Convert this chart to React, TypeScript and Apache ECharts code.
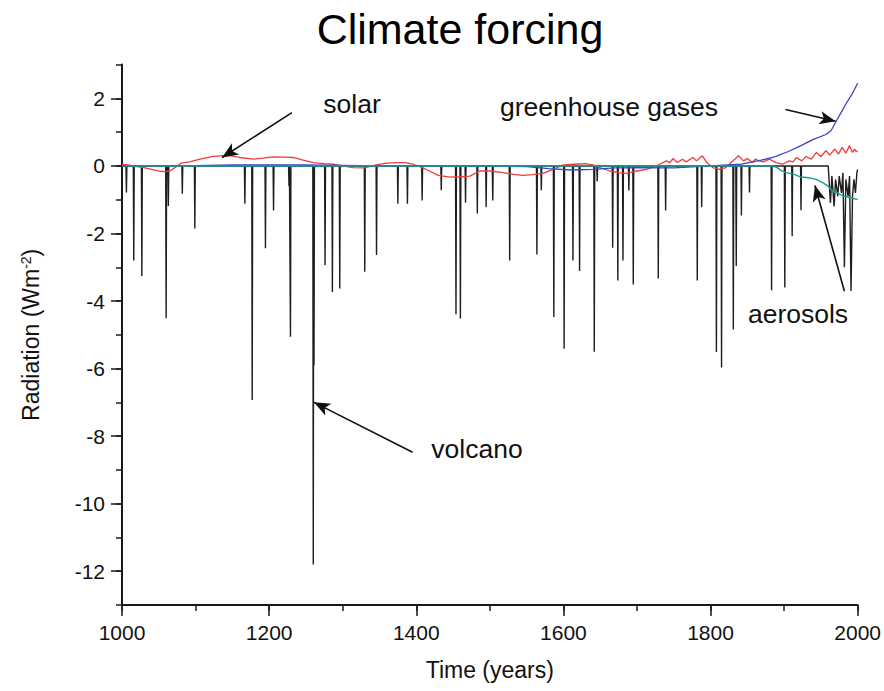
import { useEffect, useRef } from 'react';
import * as echarts from 'echarts';

const FONT = '"Liberation Sans", Arial, Helvetica, sans-serif';

// Volcanic forcing spikes: [year, W/m2]
const volcanicSpikes: [number, number][] = [
  [1006, -0.79], [1016, -2.8], [1027, -3.26], [1060, -4.51], [1063, -1.19], [1082, -0.82],
  [1099, -1.85], [1167, -1.12], [1177, -6.93], [1195, -2.44], [1206, -1.32], [1227, -0.6],
  [1229, -5.06], [1260, -11.8], [1261, -5.9], [1276, -2.94], [1286, -3.73], [1296, -3.63],
  [1330, -3.13], [1346, -2.64], [1375, -1.12], [1388, -1.12], [1408, -1.02], [1434, -0.72],
  [1454, -4.39], [1460, -4.52], [1467, -1.09], [1483, -1.41], [1495, -1.22], [1504, -1.02],
  [1527, -2.8], [1564, -2.62], [1570, -0.72], [1587, -4.47], [1601, -5.41], [1613, -2.8],
  [1622, -3.11], [1642, -5.5], [1646, -0.45], [1667, -2.42], [1674, -3.39], [1681, -2.8],
  [1689, -0.73], [1695, -3.51], [1729, -3.33], [1739, -1.32], [1782, -3.39], [1788, -1.22],
  [1808, -5.51], [1815, -5.97], [1831, -4.84], [1835, -2.96], [1842, -1.47], [1853, -0.79],
  [1883, -3.68], [1901, -3.6], [1911, -2.08], [1923, -1.31],
];

// Recent volcanic record (continuous): [year, W/m2]
const volcanicRecent: [number, number][] = [
  [1958, 0], [1960, 0], [1963, -1.1], [1965, -0.3], [1968, -1.2], [1970, -0.4],
  [1973, -0.9], [1975, -0.3], [1978, -0.8], [1980, -0.2], [1982, -3.0],
  [1984, -0.4], [1987, -0.9], [1989, -0.3], [1991, -3.7], [1993, -0.9],
  [1995, -0.4], [1997, -0.8], [1999, -0.2], [2000, -0.1],
];

// Solar forcing: [year, W/m2]
const solar: [number, number][] = [
  [1000, 0.05], [1010, 0.02], [1020, -0.02], [1030, -0.05], [1040, -0.1], [1050, -0.15],
  [1058, -0.17], [1065, -0.15], [1072, -0.05], [1080, 0.08], [1092, 0.12], [1106, 0.2],
  [1124, 0.28], [1144, 0.31], [1160, 0.25], [1178, 0.2], [1192, 0.23], [1205, 0.27],
  [1220, 0.26], [1233, 0.25], [1245, 0.18], [1260, 0.1], [1275, 0.07], [1287, 0.05],
  [1300, 0.0], [1314, -0.05], [1330, -0.06], [1345, 0.03], [1360, 0.08], [1373, 0.1],
  [1385, 0.1], [1396, 0.05], [1408, -0.05], [1418, -0.15], [1430, -0.28], [1446, -0.33],
  [1460, -0.32], [1473, -0.3], [1486, -0.15], [1500, -0.15], [1518, -0.2], [1532, -0.25],
  [1545, -0.28], [1558, -0.26], [1572, -0.22], [1586, -0.1], [1600, 0.03], [1615, 0.05],
  [1630, 0.07], [1640, 0.03], [1650, -0.05], [1663, -0.15], [1675, -0.2], [1686, -0.22],
  [1700, -0.15], [1713, -0.1], [1724, -0.02], [1731, 0.05], [1740, 0.15], [1745, 0.1],
  [1749, 0.22], [1755, 0.1], [1762, 0.2], [1767, 0.12], [1776, 0.25], [1781, 0.15],
  [1789, 0.3], [1795, 0.1], [1803, -0.05], [1812, -0.1], [1821, -0.05], [1828, 0.1],
  [1833, 0.2], [1838, 0.3], [1845, 0.15], [1850, 0.22], [1857, 0.1], [1861, 0.2],
  [1866, 0.15], [1872, 0.12], [1880, 0.2], [1889, 0.1], [1898, 0.05], [1907, 0.15],
  [1912, 0.12], [1917, 0.25], [1924, 0.15], [1930, 0.28], [1937, 0.2], [1944, 0.4],
  [1950, 0.28], [1957, 0.45], [1962, 0.32], [1969, 0.5], [1974, 0.35], [1979, 0.55],
  [1984, 0.38], [1989, 0.6], [1993, 0.4], [1996, 0.5], [1998, 0.42], [2000, 0.45],
];

// Greenhouse gases forcing: [year, W/m2]
const greenhouse: [number, number][] = [
  [1000, 0], [1100, 0.01], [1150, 0.03], [1250, 0.03], [1350, 0.0], [1450, 0.01],
  [1550, -0.02], [1580, -0.08], [1610, -0.12], [1640, -0.1], [1670, -0.06], [1700, -0.05],
  [1750, -0.06], [1800, 0.0], [1842, 0.05], [1869, 0.17], [1887, 0.27], [1905, 0.42],
  [1923, 0.6], [1939, 0.78], [1957, 0.93], [1964, 1.05], [1971, 1.33], [1978, 1.6],
  [1985, 1.87], [1993, 2.15], [2000, 2.45],
];

// Aerosol forcing: [year, W/m2]
const aerosols: [number, number][] = [
  [1000, 0], [1880, 0], [1889, -0.03], [1896, -0.13], [1903, -0.2], [1914, -0.25],
  [1921, -0.32], [1933, -0.35], [1944, -0.4], [1953, -0.5], [1960, -0.6], [1966, -0.75],
  [1973, -0.8], [1980, -0.89], [1987, -0.92], [2000, -1.0],
];

// Annotation arrows in data coordinates: [x1, y1, x2(head), y2(head)]
const arrowSegments: [number, number, number, number][] = [
  [1231, 1.58, 1136, 0.25],
  [1902, 1.67, 1970, 1.32],
  [1982, -3.71, 1942, -0.58],
  [1395, -8.48, 1261, -7.0],
];

const xMajorTicks = [1000, 1200, 1400, 1600, 1800, 2000];
const yMajorTicks = [-12, -10, -8, -6, -4, -2, 0, 2];

function buildVolcanic(): number[][] {
  const out: number[][] = [[1000, 0]];
  for (const [yr, v] of volcanicSpikes) {
    out.push([yr - 0.6, 0], [yr, v], [yr + 0.6, 0]);
  }
  for (const p of volcanicRecent) out.push(p);
  return out;
}

const AX = '#1a1a1a';
const ANN = 26.5;

export default function App() {
  const ref = useRef<HTMLDivElement>(null);
  useEffect(() => {
    const chart = echarts.init(ref.current!, null, { renderer: 'svg' });
    const option: any = {
      animation: false,
      backgroundColor: '#ffffff',
      textStyle: { fontFamily: FONT },
      grid: { left: 122, right: 26, top: 64.6, bottom: 86 },
      xAxis: [
        {
          type: 'value', min: 1000, max: 2000, interval: 100, position: 'bottom',
          axisLine: { show: true, onZero: false, lineStyle: { color: AX, width: 2 } },
          axisTick: { show: true, length: 6, lineStyle: { color: AX, width: 1.5 } },
          splitLine: { show: false },
          axisLabel: {
            formatter: (v: number) => (v % 200 === 0 ? String(v) : ''),
            fontSize: 21, color: '#111', margin: 17, fontFamily: FONT,
          },
          name: 'Time (years)', nameLocation: 'middle', nameGap: 53,
          nameTextStyle: { fontSize: 23, color: '#111', fontFamily: FONT },
        },
        {
          type: 'value', min: 1000, max: 2000, interval: 200, position: 'bottom',
          axisLine: { show: false, onZero: false },
          axisTick: { show: true, length: 11, customValues: xMajorTicks, lineStyle: { color: AX, width: 1.5 } },
          axisLabel: { show: false },
          splitLine: { show: false },
        },
      ],
      yAxis: [
        {
          type: 'value', min: -13, max: 3, interval: 1, position: 'left',
          axisLine: { show: true, onZero: false, lineStyle: { color: AX, width: 2 } },
          axisTick: { show: true, length: 6, lineStyle: { color: AX, width: 1.5 } },
          splitLine: { show: false },
          axisLabel: {
            formatter: (v: number) => (Math.abs(v % 2) === 0 ? String(v) : ''),
            fontSize: 21, color: '#111', margin: 17, fontFamily: FONT,
          },
          name: 'Radiation (Wm{sup|-2})', nameLocation: 'middle', nameGap: 80, nameRotate: 90,
          nameTextStyle: {
            fontSize: 23, color: '#111', fontFamily: FONT,
            rich: { sup: { fontSize: 14, color: '#111', fontFamily: FONT, verticalAlign: 'top', lineHeight: 14, padding: [0, 0, 12, 0] } },
          },
        },
        {
          type: 'value', min: -13, max: 3, position: 'left',
          axisLine: { show: false, onZero: false },
          axisTick: { show: true, length: 11, customValues: yMajorTicks, lineStyle: { color: AX, width: 1.5 } },
          axisLabel: { show: false },
          splitLine: { show: false },
        },
      ],
      graphic: [
        { type: 'text', x: 460, y: 29, style: { text: 'Climate forcing', fontSize: 43, fontFamily: FONT, fill: '#000', align: 'center', verticalAlign: 'middle' } },
        { type: 'text', x: 352, y: 104, style: { text: 'solar', fontSize: ANN, fontFamily: FONT, fill: '#111', align: 'center', verticalAlign: 'middle' } },
        { type: 'text', x: 609, y: 107, style: { text: 'greenhouse gases', fontSize: ANN, fontFamily: FONT, fill: '#111', align: 'center', verticalAlign: 'middle' } },
        { type: 'text', x: 798, y: 314, style: { text: 'aerosols', fontSize: ANN, fontFamily: FONT, fill: '#111', align: 'center', verticalAlign: 'middle' } },
        { type: 'text', x: 477, y: 449, style: { text: 'volcano', fontSize: ANN, fontFamily: FONT, fill: '#111', align: 'center', verticalAlign: 'middle' } },
      ],
      series: [
        {
          name: 'volcano', type: 'line', xAxisIndex: 0, yAxisIndex: 0,
          data: buildVolcanic(), showSymbol: false, symbol: 'none',
          lineStyle: { color: '#1e1e1e', width: 1.4 }, z: 2,
          markLine: {
            silent: true, symbol: ['none', 'arrow'], symbolSize: [10, 16], animation: false,
            lineStyle: { color: '#111', width: 1.6, type: 'solid' },
            label: { show: false },
            data: arrowSegments.map(([x1, y1, x2, y2]) => [{ coord: [x1, y1] }, { coord: [x2, y2] }]),
          },
        },
        {
          name: 'solar', type: 'line', xAxisIndex: 0, yAxisIndex: 0,
          data: solar, showSymbol: false, symbol: 'none',
          lineStyle: { color: '#ef3b3b', width: 1.3 }, z: 3,
        },
        {
          name: 'greenhouse gases', type: 'line', xAxisIndex: 0, yAxisIndex: 0,
          data: greenhouse, showSymbol: false, symbol: 'none',
          lineStyle: { color: '#3b44c4', width: 1.3 }, z: 4,
        },
        {
          name: 'aerosols', type: 'line', xAxisIndex: 0, yAxisIndex: 0,
          data: aerosols, showSymbol: false, symbol: 'none',
          lineStyle: { color: '#1a9c94', width: 1.4 }, z: 5,
        },
      ],
    };
    chart.setOption(option);
    return () => chart.dispose();
  }, []);
  return (
    <div
      ref={ref}
      style={{ position: 'absolute', left: 0, top: 0, width: 884, height: 691, background: '#fff' }}
    />
  );
}
